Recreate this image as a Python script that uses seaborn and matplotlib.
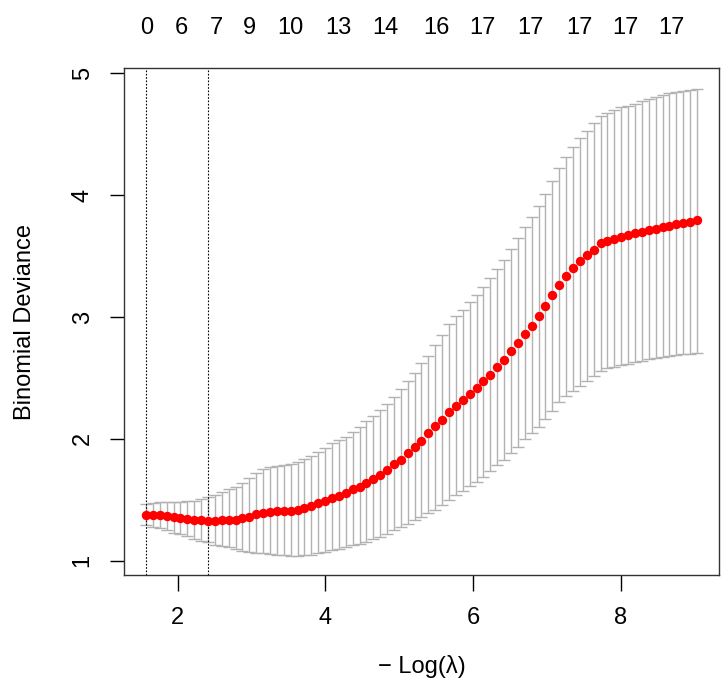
import numpy as np
import pandas as pd
import matplotlib
matplotlib.use("Agg")
import matplotlib.pyplot as plt
import seaborn as sns

# ---- data ----
log_lambda_start = 1.571   # -log(lambda) of the first (largest) lambda
log_lambda_end = 9.036     # -log(lambda) of the last (smallest) lambda
n_lambda = 81

cv_mean = [
    1.378, 1.378, 1.378, 1.364, 1.357, 1.350, 1.344, 1.334, 1.330, 1.326,
    1.328, 1.333, 1.334, 1.338, 1.350, 1.360, 1.383, 1.393, 1.400, 1.405,
    1.405, 1.410, 1.420, 1.430, 1.452, 1.470, 1.490, 1.512, 1.534, 1.558,
    1.585, 1.608, 1.640, 1.670, 1.702, 1.745, 1.790, 1.830, 1.882, 1.936,
    1.986, 2.046, 2.103, 2.158, 2.218, 2.273, 2.320, 2.369, 2.418, 2.473,
    2.528, 2.588, 2.651, 2.720, 2.788, 2.862, 2.930, 3.007, 3.089, 3.177,
    3.259, 3.333, 3.401, 3.456, 3.505, 3.554, 3.604, 3.626, 3.639, 3.656,
    3.672, 3.686, 3.700, 3.716, 3.724, 3.738, 3.746, 3.760, 3.770, 3.779,
    3.793,
]
cv_upper = [
    1.462, 1.476, 1.480, 1.480, 1.482, 1.485, 1.488, 1.490, 1.504, 1.520,
    1.540, 1.560, 1.586, 1.607, 1.640, 1.676, 1.717, 1.750, 1.771, 1.780,
    1.786, 1.790, 1.810, 1.837, 1.860, 1.890, 1.925, 1.963, 1.990, 2.017,
    2.058, 2.100, 2.147, 2.188, 2.237, 2.290, 2.340, 2.406, 2.474, 2.542,
    2.620, 2.684, 2.772, 2.850, 2.945, 3.005, 3.060, 3.120, 3.180, 3.250,
    3.320, 3.395, 3.470, 3.556, 3.650, 3.737, 3.820, 3.910, 4.010, 4.120,
    4.227, 4.317, 4.397, 4.466, 4.528, 4.590, 4.650, 4.675, 4.700, 4.720,
    4.730, 4.750, 4.770, 4.790, 4.807, 4.820, 4.835, 4.845, 4.855, 4.865,
    4.873,
]
cv_lower = [
    1.290, 1.280, 1.266, 1.250, 1.230, 1.220, 1.200, 1.180, 1.160, 1.150,
    1.130, 1.120, 1.110, 1.100, 1.080, 1.070, 1.064, 1.060, 1.055, 1.046,
    1.044, 1.040, 1.040, 1.044, 1.046, 1.064, 1.070, 1.085, 1.100, 1.110,
    1.130, 1.140, 1.155, 1.175, 1.195, 1.220, 1.250, 1.280, 1.300, 1.330,
    1.355, 1.392, 1.420, 1.460, 1.500, 1.540, 1.575, 1.610, 1.650, 1.690,
    1.735, 1.785, 1.830, 1.885, 1.935, 1.995, 2.045, 2.100, 2.160, 2.230,
    2.300, 2.350, 2.390, 2.430, 2.475, 2.515, 2.560, 2.578, 2.590, 2.605,
    2.615, 2.630, 2.640, 2.654, 2.665, 2.672, 2.680, 2.690, 2.697, 2.700,
    2.706,
]

# number of nonzero coefficients shown on the top axis
nz_positions = [1.582, 2.045, 2.518, 2.969, 3.533, 4.183, 4.818, 5.509,
                6.131, 6.780, 7.445, 8.067, 8.690]
nz_labels = ["0", "6", "7", "9", "10", "13", "14", "16",
             "17", "17", "17", "17", "17"]

idx_1se = 0
idx_min = 9

x_ticks = [2, 4, 6, 8]
y_ticks = [1, 2, 3, 4, 5]

# ---- build frame ----
neg_log_lambda = np.linspace(log_lambda_start, log_lambda_end, n_lambda)
df = pd.DataFrame({
    "x": neg_log_lambda,
    "mean": cv_mean,
    "upper": cv_upper,
    "lower": cv_lower,
})

# ---- style ----
sns.set_style("white")
plt.rcParams["font.family"] = ["Liberation Sans", "DejaVu Sans"]
plt.rcParams["text.color"] = "black"
plt.rcParams["axes.labelcolor"] = "black"
plt.rcParams["xtick.color"] = "black"
plt.rcParams["ytick.color"] = "black"
FS = 17

fig = plt.figure(figsize=(7.28, 6.94), dpi=100)
ax = fig.add_axes([124 / 728, 1 - 575 / 694, 595 / 728, 506.7 / 694])

# error bars
ax.errorbar(df["x"], df["mean"],
            yerr=[df["mean"] - df["lower"], df["upper"] - df["mean"]],
            fmt="none", ecolor="#b2b2b2", elinewidth=1.0,
            capsize=4.0, capthick=1.0, zorder=1)

# points
sns.scatterplot(data=df, x="x", y="mean", ax=ax, color="#ff0000",
                s=46, linewidth=0, zorder=3, legend=False)

# vertical reference lines
for i in (idx_1se, idx_min):
    ax.axvline(df["x"].iloc[i], color="black", linewidth=0.8,
               linestyle=(0, (1.5, 1.5)), zorder=2)

# limits (R style 4% extension)
xr = df["x"].max() - df["x"].min()
ax.set_xlim(df["x"].min() - 0.04 * xr, df["x"].max() + 0.04 * xr)
yr = df["upper"].max() - df["lower"].min()
ax.set_ylim(df["lower"].min() - 0.04 * yr - 0.004, df["upper"].max() + 0.04 * yr + 0.015)

ax.set_xticks(x_ticks)
ax.set_xticklabels([str(t) for t in x_ticks], fontsize=FS)
ax.set_yticks(y_ticks)
ax.set_yticklabels([str(t) for t in y_ticks], fontsize=FS, rotation=90,
                   va="center")

ax.tick_params(axis="x", direction="out", length=11.3, width=1.0,
               color="black", pad=11.5, bottom=True)
ax.tick_params(axis="y", direction="out", length=9.8, width=1.0,
               color="black", pad=12, left=True)

for sp in ax.spines.values():
    sp.set_color("#333333")
    sp.set_linewidth(1.0)
    sp.set_visible(True)

ax.set_xlabel("\u2212 Log(\u03bb)", fontsize=FS)
ax.set_ylabel("Binomial Deviance", fontsize=FS)
ax.xaxis.set_label_coords(0.5, -0.18)
ax.xaxis.label.set_va("center")
ax.yaxis.set_label_coords((25 - 124) / 595, 0.5)
ax.yaxis.label.set_va("center")

# top axis with counts
ax2 = ax.twiny()
ax2.set_xlim(ax.get_xlim())
ax2.set_xticks(nz_positions)
ax2.set_xticklabels(nz_labels, fontsize=FS)
ax2.tick_params(axis="x", length=0, pad=21, top=True, colors="black")
for sp in ax2.spines.values():
    sp.set_visible(False)
ax2.grid(False)
ax.grid(False)

fig.savefig("out.png", dpi=100, facecolor="white")
